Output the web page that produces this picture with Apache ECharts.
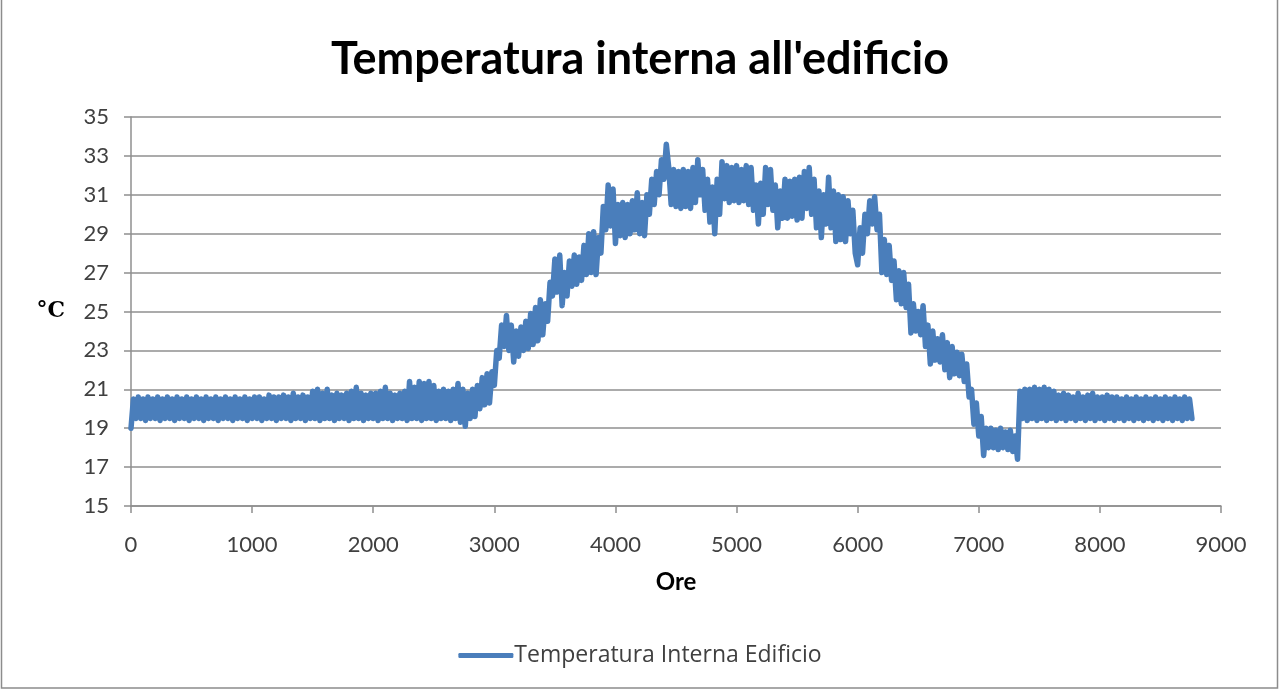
<!DOCTYPE html>
<html>
<head>
<meta charset="utf-8">
<script src="https://cdn.jsdelivr.net/npm/echarts@6/dist/echarts.min.js"></script>
<style>
html,body{margin:0;padding:0;background:#fff;}
#c{width:1280px;height:690px;}
</style>
</head>
<body>
<div id="c"></div>
<script>
// ---- data ----
const chartTitle = "Temperatura interna all'edificio";
const seriesName = "Temperatura Interna Edificio";
const xName = "Ore";
const yName = "°C";
const xMin = 0, xMax = 9000, xStep = 1000;
const yMin = 15, yMax = 35, yStep = 2;
// one reading every STEP_ORE hours (alternating daily low / high of the band)
const STEP_ORE = 20;
const temperatura = [
  19.0,20.5,19.5,20.6,19.5,20.5,19.4,20.6,19.5,20.5,
  19.5,20.6,19.4,20.5,19.5,20.6,19.5,20.5,19.4,20.6,
  19.5,20.5,19.5,20.6,19.4,20.5,19.5,20.6,19.5,20.5,
  19.4,20.6,19.5,20.5,19.5,20.6,19.4,20.5,19.5,20.6,
  19.5,20.5,19.4,20.6,19.5,20.5,19.5,20.6,19.4,20.5,
  19.5,20.6,19.5,20.6,19.4,20.5,19.5,20.7,19.5,20.6,
  19.4,20.6,19.5,20.7,19.5,20.6,19.4,20.8,19.5,20.6,
  19.5,20.7,19.4,20.6,19.5,20.9,19.5,21.0,19.4,20.8,
  19.5,21.0,19.5,20.7,19.4,20.8,19.5,20.7,19.5,20.8,
  19.4,20.9,19.5,21.1,19.5,20.8,19.4,20.7,19.5,20.8,
  19.5,20.8,19.4,20.9,19.5,21.1,19.5,20.8,19.4,20.7,
  19.5,20.8,19.5,20.9,19.4,21.4,19.5,21.1,19.5,21.4,
  19.4,21.3,19.5,21.4,19.5,21.2,19.4,20.9,19.5,21.0,
  19.5,20.9,19.4,21.0,19.5,21.3,19.3,21.0,19.1,20.8,
  19.5,21.0,19.6,21.2,20.0,21.6,20.2,21.8,20.3,21.9,
  21.2,23.0,22.6,24.3,23.2,24.8,23.0,24.3,22.4,24.0,
  22.7,24.2,23.0,24.5,23.1,24.9,23.3,25.2,23.5,25.6,
  23.8,25.4,24.5,26.5,25.8,27.7,26.0,27.9,25.3,27.0,
  25.8,27.6,26.3,27.9,26.4,27.8,26.6,28.4,26.9,29.0,
  27.0,29.1,26.9,28.8,28.0,30.4,29.2,31.5,29.4,31.3,
  28.5,30.5,28.9,30.6,28.8,30.5,29.0,30.7,29.2,31.1,
  29.0,30.6,28.9,31.0,30.0,31.8,30.5,32.2,31.0,32.8,
  31.8,33.6,32.4,30.5,32.3,30.4,32.2,30.3,32.3,30.4,
  32.2,30.3,32.4,30.6,32.8,31.0,32.3,30.2,31.8,29.6,
  31.4,29.0,31.8,30.0,32.7,30.8,32.5,30.6,32.4,30.7,
  32.5,30.6,32.3,30.7,32.5,30.5,32.4,30.2,31.5,29.5,
  31.6,30.0,32.4,30.5,32.3,30.2,31.5,29.3,31.2,29.8,
  31.8,29.8,31.7,29.9,31.8,29.7,31.9,29.8,32.2,30.3,
  32.4,30.0,31.8,29.3,31.2,28.8,31.0,29.5,31.9,29.3,
  31.2,28.6,31.0,28.7,30.9,28.6,30.7,29.0,30.2,28.0,
  27.4,29.3,28.0,30.0,29.0,30.7,29.5,30.9,29.2,30.0,
  27.0,28.7,26.9,28.4,26.6,27.6,25.6,27.1,25.4,27.0,
  25.2,26.4,23.9,25.4,24.0,25.0,23.8,25.3,23.2,24.3,
  22.3,24.0,22.5,23.6,22.4,23.8,22.0,23.4,21.6,23.2,
  21.8,22.9,21.7,22.8,21.4,22.3,20.6,21.0,19.2,20.3,
  18.6,19.6,17.6,19.0,18.0,19.0,18.0,18.9,17.9,19.0,
  18.0,18.8,17.9,18.9,17.8,18.6,17.4,20.9,19.5,21.0,
  19.4,21.0,19.5,21.1,19.4,21.0,19.5,21.1,19.4,21.0,
  19.5,20.9,19.4,20.7,19.5,20.8,19.4,20.7,19.5,20.6,
  19.4,20.8,19.5,20.6,19.4,20.7,19.5,20.8,19.4,20.6,
  19.5,20.6,19.4,20.7,19.5,20.6,19.4,20.6,19.5,20.5,
  19.4,20.6,19.5,20.5,19.4,20.6,19.5,20.5,19.4,20.6,
  19.5,20.5,19.4,20.6,19.5,20.5,19.4,20.6,19.5,20.5,
  19.4,20.6,19.5,20.5,19.4,20.6,19.5,20.5,19.5
];

// ---- chart ----
const serie = temperatura.map((t, i) => [i * STEP_ORE, t]);
const chart = echarts.init(document.getElementById('c'), null, {renderer: 'canvas'});
const gridCol = '#8f8f8f';
const txtCol = '#404040';
const lineCol = '#4A7EBB';
chart.setOption({
  animation: false,
  backgroundColor: '#ffffff',
  title: {
    text: chartTitle,
    left: 'center',
    top: 32,
    textStyle: {fontFamily: 'Lato', fontWeight: 'bold', fontSize: 45, color: '#000'}
  },
  legend: {
    data: [{name: seriesName, icon: 'roundRect'}],
    left: 'center',
    top: 639,
    itemWidth: 55,
    itemHeight: 5,
    itemGap: 10,
    textStyle: {fontFamily: 'Open Sans', fontSize: 23, color: txtCol, padding: [0, 0, 0, -4]}
  },
  graphic: [{
    type: 'rect',
    shape: {x: 1.5, y: -2, width: 1276, height: 690},
    style: {fill: 'none', stroke: '#8c8c8c', lineWidth: 1.5},
    silent: true
  }],
  grid: {left: 131, right: 59, top: 117, bottom: 184},
  xAxis: {
    type: 'value',
    min: xMin, max: xMax, interval: xStep,
    name: xName,
    nameLocation: 'middle',
    nameGap: 64,
    nameTextStyle: {fontFamily: 'Lato', fontWeight: 'bold', fontSize: 24, color: '#000'},
    axisLine: {show: true, lineStyle: {color: gridCol, width: 1.5}},
    axisTick: {show: true, inside: false, length: 7, lineStyle: {color: gridCol, width: 1.5}},
    axisLabel: {fontFamily: 'Lato', fontSize: 22, color: txtCol, margin: 28,
      formatter: v => String(v)},
    splitLine: {show: false}
  },
  yAxis: {
    type: 'value',
    min: yMin, max: yMax, interval: yStep,
    name: yName,
    nameLocation: 'middle',
    nameRotate: 0,
    nameGap: 66,
    nameTextStyle: {fontFamily: 'DejaVu Serif', fontWeight: 'bold', fontSize: 22, color: '#000'},
    axisLine: {show: true, lineStyle: {color: gridCol, width: 1.5}},
    axisTick: {show: true, inside: false, length: 7, lineStyle: {color: gridCol, width: 1.5}},
    axisLabel: {fontFamily: 'Lato', fontSize: 22, color: txtCol, margin: 22,
      formatter: v => String(v)},
    splitLine: {show: true, lineStyle: {color: gridCol, width: 1.5}}
  },
  series: [{
    name: seriesName,
    type: 'line',
    data: serie,
    showSymbol: false,
    symbol: 'none',
    sampling: null,
    lineStyle: {color: lineCol, width: 5.5, join: 'round', cap: 'round'},
    itemStyle: {color: lineCol}
  }]
});
</script>
</body>
</html>
